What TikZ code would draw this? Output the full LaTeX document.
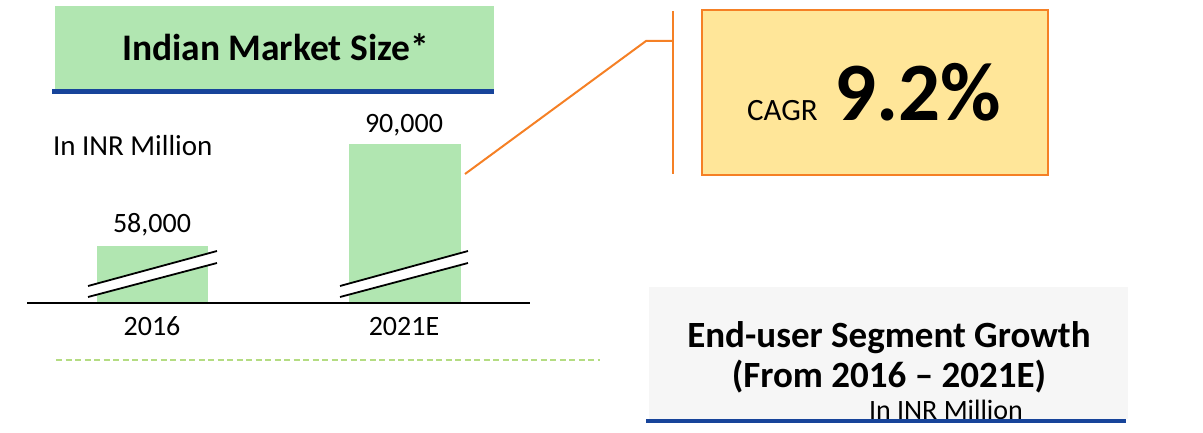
\documentclass[tikz,border=0pt]{standalone}
\usepackage{fontspec}
\setmainfont{Carlito}
\definecolor{bargreen}{HTML}{B1E6B1}
\definecolor{titleblue}{HTML}{17449A}
\definecolor{cagrorange}{HTML}{F58025}
\definecolor{cagrfill}{HTML}{FFE699}
\definecolor{panelgray}{HTML}{F6F6F6}
\definecolor{dashgreen}{HTML}{B4DC82}
\begin{document}
\begin{tikzpicture}[x=1pt,y=-1pt,
  txt/.style={inner sep=0pt,outer sep=0pt,anchor=base},
  barbox/.style={fill=bargreen,draw=none,inner sep=0pt,outer sep=0pt,anchor=north west},
  brk/.style={draw=black,line width=1.8pt},
  orangeline/.style={draw=cagrorange,line width=2pt}]
\useasboundingbox (0,0) rectangle (1203,433);
% title panel
\node[fill=bargreen,inner sep=0pt,anchor=north west,minimum width=439pt,minimum height=83pt] (titlebox) at (55,6) {};
\draw[titleblue,line width=4.5pt] (52,91.5) coordinate (tl) -- (494,91.5) coordinate (tr);
\node[txt] (title) at (275.5,61) {\fontsize{37.5}{44}\selectfont\bfseries Indian Market Size*};
\node[txt,anchor=base west] (unit1) at (53,156) {\fontsize{29}{34}\selectfont In INR Million};
% bars
\node[barbox,minimum width=111pt,minimum height=57pt] (bar16) at (97,246) {};
\node[barbox,minimum width=112pt,minimum height=159pt] (bar21) at (349,144) {};
\node[txt] (v16) at (152,233) {\fontsize{28}{34}\selectfont 58,000};
\node[txt] (v21) at (404,133) {\fontsize{28}{34}\selectfont 90,000};
% axis
\draw[black,line width=2pt] (27,303) coordinate (axl) -- (530,303) coordinate (axr);
\node[txt] (y16) at (152,335) {\fontsize{28}{34}\selectfont 2016};
\node[txt] (y21) at (404,335) {\fontsize{28}{34}\selectfont 2021E};
% break marks
\coordinate (a1) at (88,286); \coordinate (a2) at (217,251);
\coordinate (a3) at (217,263); \coordinate (a4) at (88,297);
\fill[white] (a1) -- (a2) -- (a3) -- (a4) -- cycle;
\draw[brk] (a1) -- (a2); \draw[brk] (a4) -- (a3);
\coordinate (b1) at (340,286); \coordinate (b2) at (468,251);
\coordinate (b3) at (468,263); \coordinate (b4) at (340,297);
\fill[white] (b1) -- (b2) -- (b3) -- (b4) -- cycle;
\draw[brk] (b1) -- (b2); \draw[brk] (b4) -- (b3);
% dashed separator
\draw[dashgreen,line width=1.6pt,dash pattern=on 6pt off 3.5pt] (56,360) coordinate (dl) -- (600,360) coordinate (dr);
% orange connector and bracket
\coordinate (c0) at (465,174);
\coordinate (c1) at (646,41);
\coordinate (c2) at (673,41);
\draw[orangeline] (c0) -- (c1) -- (c2);
\draw[orangeline] (673,11) coordinate (k1) -- (673,174) coordinate (k2);
% CAGR box
\node[fill=cagrfill,draw=cagrorange,line width=2pt,inner sep=0pt,anchor=north west,minimum width=346pt,minimum height=165pt] (cagr) at (701,9) {};
\node[txt,anchor=base west] (cagrlbl) at (747,121) {\fontsize{31}{37}\selectfont CAGR};
\node[txt,anchor=base west] (cagrval) at (834,121) {\fontsize{83}{96}\selectfont\bfseries 9.2\%};
% end-user panel
\node[fill=panelgray,inner sep=0pt,anchor=north west,minimum width=479pt,minimum height=132pt] (panel) at (649,287) {};
\node[txt] (seg1) at (889,347) {\fontsize{37}{44}\selectfont\bfseries End-user Segment Growth};
\node[txt] (seg2) at (889,387) {\fontsize{37}{44}\selectfont\bfseries (From 2016 -- 2021E)};
\begin{scope}
\clip (640,380) rectangle (1140,420);
\node[txt,anchor=base west] (unit2) at (869,419) {\fontsize{28}{34}\selectfont In INR Million};
\end{scope}
\draw[titleblue,line width=4.5pt] (646,421) coordinate (pl) -- (1126,421) coordinate (pr);
\end{tikzpicture}
\end{document}
